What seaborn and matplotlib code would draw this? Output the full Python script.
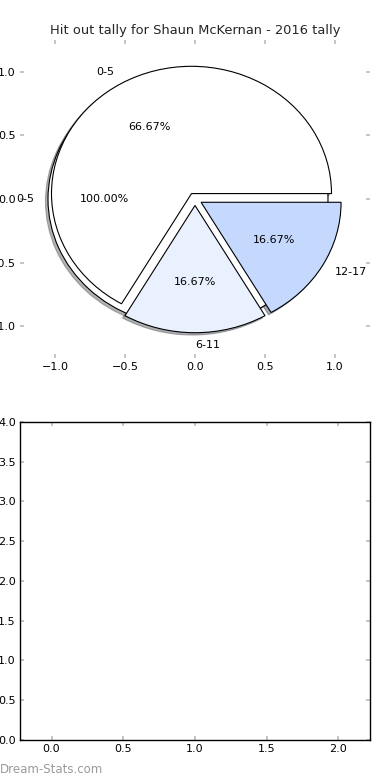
import matplotlib
matplotlib.use("Agg")
import matplotlib.pyplot as plt
import seaborn as sns
import numpy as np

# ---- data ----
categories = ["0-5", "6-11", "12-17"]
counts = [4, 1, 1]
overlay_labels = ["0-5"]
overlay_counts = [1]
colors = ["#ffffff", "#eaf1fe", "#c5d9fe"]
title = "Hit out tally for Shaun McKernan - 2016 tally"
pie_ticks = [-1.0, -0.5, 0.0, 0.5, 1.0]
bottom_xticks = [0.0, 0.5, 1.0, 1.5, 2.0]
bottom_yticks = [0.0, 0.5, 1.0, 1.5, 2.0, 2.5, 3.0, 3.5, 4.0]

sns.set_theme(style="white")
plt.rcParams["font.family"] = ["DejaVu Sans"]
plt.rcParams.update({
    "xtick.direction": "in", "ytick.direction": "in",
    "xtick.top": True, "ytick.right": True,
    "xtick.color": "#bbbbbb", "ytick.color": "#bbbbbb",
    "xtick.labelcolor": "black", "ytick.labelcolor": "black",
    "xtick.major.size": 3, "ytick.major.size": 3,
    "xtick.major.width": 1.2, "ytick.major.width": 1.2,
    "xtick.labelsize": 8, "ytick.labelsize": 8,
    "xtick.major.pad": 3, "ytick.major.pad": 3,
    "axes.edgecolor": "black", "axes.linewidth": 1.0,
})

fig, (ax1, ax2) = plt.subplots(2, 1, figsize=(3.9, 7.8), dpi=100)
fig.subplots_adjust(left=20/390, right=370/390, top=1-40/780, bottom=1-740/780, hspace=0.2)

wp = dict(edgecolor="black", linewidth=0.8)
tp = dict(fontsize=8, color="black")
sh = dict(ox=-0.013, oy=-0.013, shade=0.6)
ax1.pie(overlay_counts, labels=overlay_labels, explode=[0.05], colors=["#ffffff"],
        shadow=sh, autopct="%.2f%%", wedgeprops=wp, textprops=tp)
ax1.pie(counts, labels=categories, explode=[0.05] * len(counts), colors=colors,
        shadow=sh, autopct="%.2f%%", wedgeprops=wp, textprops=tp)
ax1.set_aspect("auto")
ax1.set_frame_on(False)
ax1.set_xlim(-1.25, 1.25)
ax1.set_ylim(-1.25, 1.25)
ax1.set_xticks(pie_ticks)
ax1.set_yticks(pie_ticks)
ax1.tick_params(top=True, right=True, left=True, bottom=True)
ax1.set_title(title, fontsize=9.4, pad=4)

ax2.set_xlim(-0.22, 2.22)
ax2.set_ylim(0, 4)
ax2.set_xticks(bottom_xticks)
ax2.set_yticks(bottom_yticks)
ax2.tick_params(top=True, right=True, left=True, bottom=True)
for s in ax2.spines.values():
    s.set_visible(True)
    s.set_color("black")

fig.text(0.0, 4/780, "Dream-Stats.com", fontsize=8.5, color="#9a9a9a", ha="left", va="bottom")

fig.savefig("out.png", dpi=100, facecolor="white")
